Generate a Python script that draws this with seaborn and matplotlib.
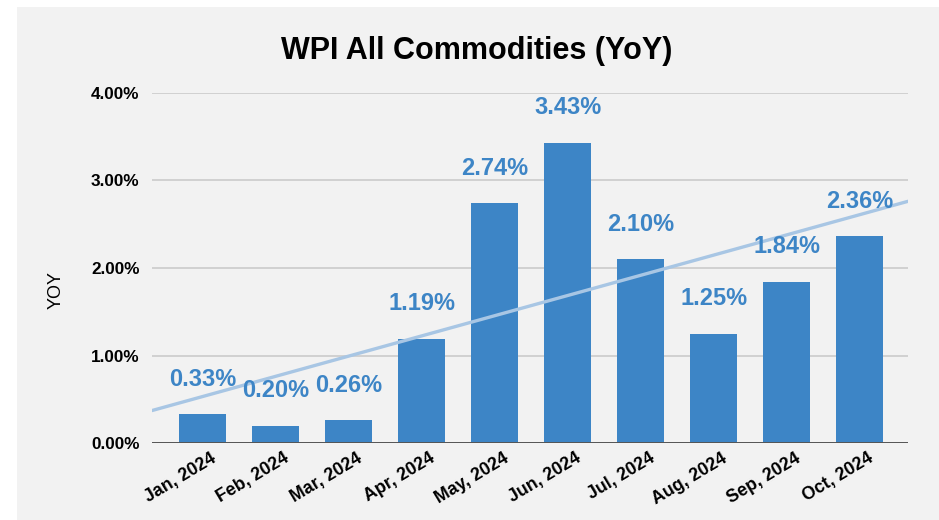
import numpy as np
import pandas as pd
import matplotlib
matplotlib.use("Agg")
import matplotlib.pyplot as plt
import matplotlib.transforms as mtransforms
from matplotlib.patches import Rectangle
from matplotlib.ticker import FuncFormatter
import seaborn as sns

months = ["Jan, 2024", "Feb, 2024", "Mar, 2024", "Apr, 2024", "May, 2024",
          "Jun, 2024", "Jul, 2024", "Aug, 2024", "Sep, 2024", "Oct, 2024"]
yoy = [0.33, 0.20, 0.26, 1.19, 2.74, 3.43, 2.10, 1.25, 1.84, 2.36]
y_ticks = [0, 1, 2, 3, 4]

BAR_BLUE = "#3d85c6"
TREND_BLUE = "#a8c6e4"
BG = "#f2f2f2"

sns.set_theme(style="white")
plt.rcParams["font.family"] = ["Liberation Sans", "DejaVu Sans"]

df = pd.DataFrame({"month": months, "yoy": yoy, "pos": np.arange(len(months))})

fig = plt.figure(figsize=(9.39, 5.20), dpi=100, facecolor="white")
fig.patches.append(Rectangle((17 / 939, 0), 1, 1 - 7 / 520, transform=fig.transFigure,
                             facecolor=BG, edgecolor="none", zorder=-10))

ax = fig.add_axes([152 / 939, 1 - 443 / 520, (908 - 152) / 939, (443 - 93) / 520])
ax.patch.set_alpha(0)

sns.barplot(data=df, x="month", y="yoy", color=BAR_BLUE, saturation=1,
            width=0.64, linewidth=0, ax=ax, zorder=3)

ax.set_xlim(-0.69, 9.66)
ax.set_ylim(0, 4)

# linear trendline across the whole plot width
sns.regplot(x=df["pos"], y=df["yoy"], scatter=False, ci=None, truncate=False,
            line_kws={"color": TREND_BLUE, "lw": 2.4, "zorder": 4}, ax=ax)
ax.set_xlim(-0.69, 9.66)

for c in ax.containers:
    ax.bar_label(c, labels=[f"{v:.2f}%" for v in yoy], padding=17,
                 color=BAR_BLUE, fontsize=17, fontweight="bold", zorder=5,
                 clip_on=False)

ax.set_yticks(y_ticks)
ax.yaxis.set_major_formatter(FuncFormatter(lambda v, p: f"{v:.2f}%"))
ax.grid(axis="y", color="#c8c8c8", lw=1.1, zorder=0)
ax.axhline(0, color="#555555", lw=1.4, zorder=6)
for s in ax.spines.values():
    s.set_visible(False)

ax.tick_params(axis="y", length=0, pad=9, labelsize=12.3, labelcolor="black")
ax.tick_params(axis="x", length=0, pad=5, labelsize=12.8, labelcolor="black")
for lbl in ax.get_yticklabels():
    lbl.set_fontweight("bold")
offset = mtransforms.ScaledTranslation(8 / 100, 0, fig.dpi_scale_trans)
for lbl in ax.get_xticklabels():
    lbl.set_rotation(31)
    lbl.set_ha("right")
    lbl.set_va("top")
    lbl.set_rotation_mode("anchor")
    lbl.set_fontweight("bold")
    lbl.set_transform(lbl.get_transform() + offset)

ax.set_xlabel("")
ax.set_ylabel("")
fig.text(56 / 939, 1 - 290 / 520, "YOY", rotation=90, ha="center", va="center",
         fontsize=13, color="black")
fig.text(477 / 939, 1 - 59 / 520, "WPI All Commodities (YoY)", ha="center",
         va="baseline", fontsize=22, fontweight="bold", color="black")

fig.savefig("out.png", dpi=100, facecolor="white")
